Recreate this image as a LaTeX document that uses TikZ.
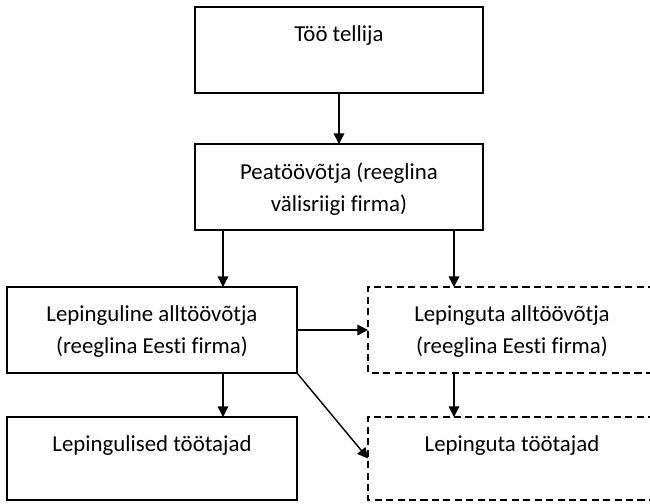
\documentclass[tikz,border=0pt]{standalone}
\usepackage{fontspec}
\setmainfont{Carlito}[Ligatures=NoCommon]
\usetikzlibrary{arrows.meta}
\begin{document}
\begin{tikzpicture}[x=0.02cm,y=-0.02cm,
		box/.style={draw,line width=0.8pt,inner sep=0pt,outer sep=0pt,minimum width=5.8cm,minimum height=1.72cm},
		openbox/.style={draw=none,inner sep=0pt,outer sep=0pt,minimum width=6.2cm,minimum height=1.72cm},
		nolep/.style={line width=0.8pt,dash pattern=on 4pt off 2.5pt},
		lbl/.style={anchor=north,inner sep=0pt,yshift=-0.37cm,align=center,font=\fontsize{13}{18.2}\selectfont},
		arr/.style={-{Triangle[length=6pt,width=6pt]},line width=0.8pt}]
		\useasboundingbox (0,0) rectangle (650,504);
		\clip (0,0) rectangle (650,504);
		\node[box,minimum width=5.76cm,label={[lbl]north:Töö tellija}] (tellija) at (339,50) {};
		\node[box,minimum width=5.76cm,label={[lbl]north:Peatöövõtja (reeglina\\välisriigi firma)}] (pea) at (339,187) {};
		\node[box,label={[lbl]north:Lepinguline alltöövõtja\\(reeglina Eesti firma)}] (lep) at (152,330) {};
		\node[openbox,label={[lbl,xshift=-0.22cm]north:Lepinguta alltöövõtja\\(reeglina Eesti firma)}] (lepta) at (523,330) {};
		\node[box,minimum height=1.66cm,label={[lbl]north:Lepingulised töötajad}] (tootajad) at (152,458.5) {};
		\node[openbox,minimum height=1.66cm,label={[lbl,xshift=-0.22cm]north:Lepinguta töötajad}] (tatootajad) at (523,458.5) {};
		% kriipsjoonega kastid, parem serv jääb pildist välja
		\draw[nolep] (lepta.north east) -- (lepta.north west) -- (lepta.south west) -- (lepta.south east);
		\draw[nolep] (tatootajad.north east) -- (tatootajad.north west) -- (tatootajad.south west) -- (tatootajad.south east);
		\coordinate (vasak) at (223,0);
		\coordinate (parem) at (454,0);
		\draw[arr] (tellija) -- (pea);
		\draw[arr] (pea.south -| vasak) -- (lep.north -| vasak);
		\draw[arr] (pea.south -| parem) -- (lepta.north -| parem);
		\draw[arr] (lep.east) -- (lepta.west);
		\draw[arr] (lep.south -| vasak) -- (tootajad.north -| vasak);
		\draw[arr] (lepta.south -| parem) -- (tatootajad.north -| parem);
		\draw[arr] (lep.south east) -- (tatootajad.west);
	\end{tikzpicture}
\end{document}
